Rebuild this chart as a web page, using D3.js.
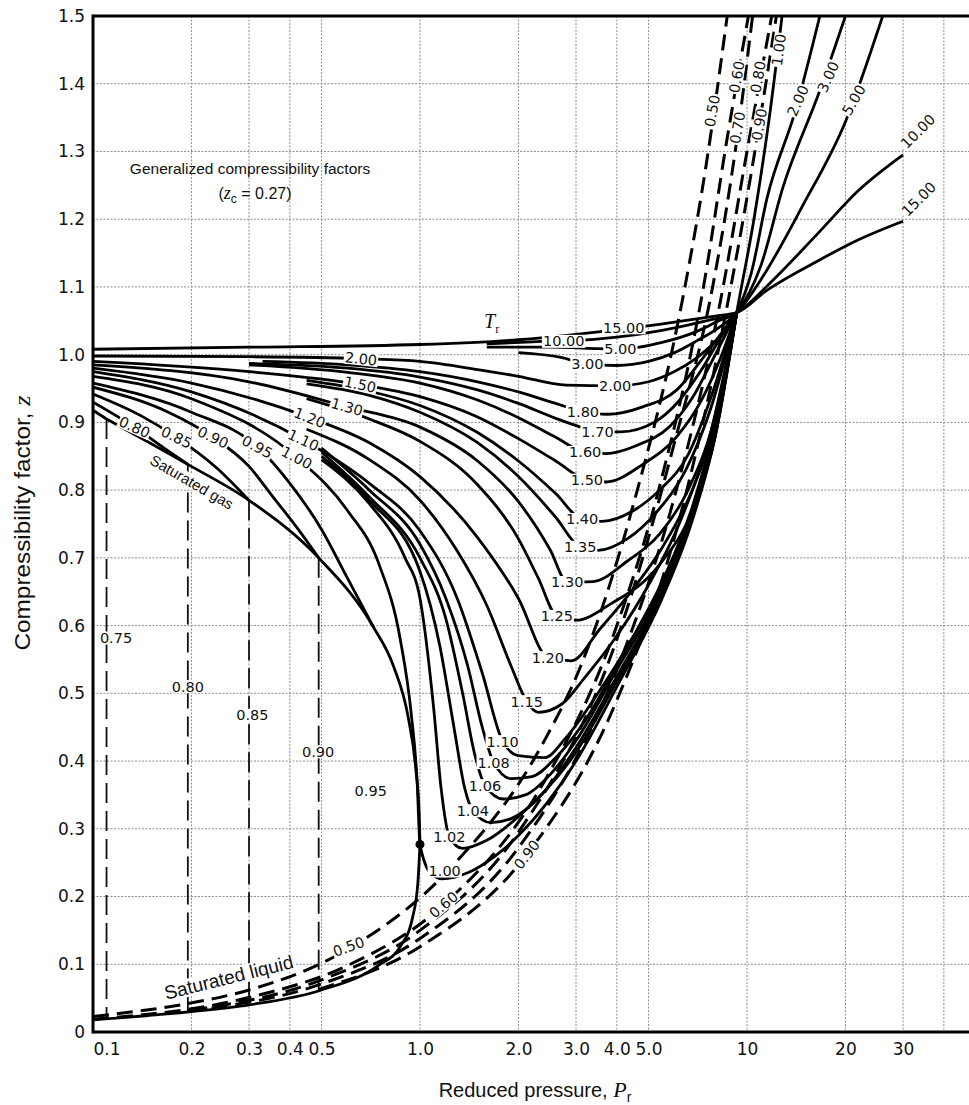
<!DOCTYPE html>
<html><head><meta charset="utf-8">
<script src="https://cdn.jsdelivr.net/npm/d3@7/dist/d3.min.js"></script>
<style>body{margin:0;background:#fff}svg{display:block}</style>
</head><body>
<svg id="chart" width="969" height="1105"></svg>
<script>
// ---------------- DATA ----------------
const xTickValues = [0.1,0.2,0.3,0.4,0.5,1,2,3,4,5,10,20,30];
const xTickLabels = ["0.1","0.2","0.3","0.4","0.5","1.0","2.0","3.0","4.0","5.0","10","20","30"];
const xGridValues = [0.2,0.3,0.4,0.5,1,2,3,4,5,10,20,30,40];
const yTickValues = [0,0.1,0.2,0.3,0.4,0.5,0.6,0.7,0.8,0.9,1.0,1.1,1.2,1.3,1.4,1.5];
const yTickLabels = ["0","0.1","0.2","0.3","0.4","0.5","0.6","0.7","0.8","0.9","1.0","1.1","1.2","1.3","1.4","1.5"];

// isotherms [Pr, z]
const tr1500 = [[0.1,1.008],[0.3,1.011],[1,1.015],[2,1.022],[3,1.03],[4.2,1.038],[6,1.048],[8,1.057],[9.3,1.062],[11.5,1.095],[16.4,1.138],[22,1.17],[30,1.197]];
const tr1000 = [[1.6,1.016],[2.5,1.02],[3,1.021],[4,1.026],[5.5,1.036],[7.5,1.05],[9.3,1.062],[12,1.11],[16.4,1.178],[22,1.243],[30,1.295]];
const tr500  = [[1.6,1.011],[2.5,1.011],[3.5,1.009],[4.1,1.008],[5.5,1.018],[7,1.034],[8.2,1.05],[9.3,1.062],[11,1.11],[14.8,1.22],[20,1.344],[26,1.5]];
const tr300  = [[2.0,1.003],[2.7,0.996],[3.25,0.986],[4.0,0.984],[5,0.99],[6,1.003],[7,1.02],[8.2,1.04],[9.3,1.062],[11,1.13],[12.9,1.248],[16.7,1.39],[20,1.5]];
const tr200  = [[0.1,0.998],[0.3,0.997],[0.66,0.994],[1,0.99],[1.5,0.978],[2,0.968],[2.8,0.955],[3.95,0.954],[5,0.96],[6,0.975],[7,0.995],[8.2,1.025],[9.3,1.062],[10.3,1.12],[11.5,1.23],[14.1,1.362],[16.7,1.5]];
const tr180  = [[0.33,0.99],[0.6,0.985],[1,0.975],[1.5,0.96],[2,0.945],[2.6,0.928],[3.15,0.916],[3.74,0.912],[4.8,0.923],[6.1,0.948],[7.2,0.99],[8.3,1.03],[9.3,1.062]];
const tr170  = [[0.3,0.987],[0.6,0.98],[1,0.967],[1.5,0.948],[2,0.928],[2.6,0.906],[3.1,0.893],[3.49,0.886],[4.1,0.886],[5.2,0.9],[6.2,0.932],[7.2,0.975],[8.3,1.025],[9.3,1.062]];
const tr160  = [[0.3,0.985],[0.6,0.974],[1,0.958],[1.5,0.933],[2,0.907],[2.6,0.878],[3.2,0.856],[3.7,0.854],[4.6,0.866],[5.8,0.894],[6.8,0.936],[7.9,0.995],[9.3,1.062]];
const tr150  = [[0.1,0.99],[0.3,0.975],[0.656,0.956],[1,0.938],[1.5,0.908],[2,0.876],[2.6,0.843],[3.24,0.815],[3.7,0.812],[4.8,0.838],[6.1,0.879],[7.3,0.935],[8.3,0.995],[9.3,1.062]];
const tr140  = [[0.45,0.962],[0.7,0.946],[1,0.925],[1.5,0.885],[2,0.843],[2.6,0.795],[3.13,0.757],[3.6,0.754],[4.5,0.77],[5.4,0.8],[6.6,0.852],[7.8,0.94],[9.3,1.062]];
const tr135  = [[0.45,0.957],[0.7,0.94],[1,0.915],[1.5,0.87],[2,0.82],[2.6,0.76],[3.09,0.716],[3.5,0.711],[4.3,0.728],[5.3,0.768],[6.5,0.83],[7.8,0.925],[9.3,1.062]];
const tr130  = [[0.1,0.985],[0.3,0.96],[0.598,0.923],[1,0.893],[1.5,0.843],[2,0.783],[2.5,0.712],[2.82,0.664],[3.38,0.665],[4.3,0.695],[5.4,0.735],[6.6,0.8],[7.9,0.9],[9.3,1.062]];
const tr125  = [[0.45,0.935],[0.7,0.905],[1,0.872],[1.5,0.808],[2,0.728],[2.3,0.67],[2.62,0.614],[3.0,0.608],[3.83,0.632],[5.4,0.69],[6.8,0.77],[8,0.88],[9.3,1.062]];
const tr120  = [[0.1,0.98],[0.2,0.958],[0.46,0.907],[0.7,0.87],[1,0.82],[1.5,0.73],[2,0.64],[2.46,0.553],[2.9,0.548],[3.55,0.595],[4.5,0.655],[5.5,0.715],[6.8,0.8],[8,0.9],[9.3,1.062]];
const tr115  = [[0.45,0.89],[0.7,0.845],[1,0.785],[1.3,0.71],[1.6,0.63],[1.9,0.54],[2.12,0.488],[2.3,0.472],[2.73,0.485],[3.15,0.52],[4,0.585],[5,0.66],[6.2,0.75],[7.6,0.87],[9.3,1.062]];
const tr110  = [[0.1,0.975],[0.2,0.945],[0.44,0.874],[0.7,0.81],[1,0.74],[1.3,0.64],[1.55,0.53],[1.79,0.429],[2.0,0.408],[2.4,0.405],[2.8,0.435],[3.5,0.5],[4.5,0.585],[5.5,0.665],[6.8,0.775],[8,0.9],[9.3,1.062]];
const tr108  = [[0.5,0.862],[0.7,0.8],[1,0.72],[1.2,0.64],[1.4,0.54],[1.55,0.45],[1.68,0.398],[1.9,0.374],[2.2,0.377],[2.6,0.405],[3.2,0.46],[4.2,0.56],[5.5,0.66],[6.8,0.77],[8,0.895],[9.3,1.062]];
const tr106  = [[0.5,0.856],[0.7,0.79],[1,0.70],[1.2,0.61],[1.35,0.5],[1.47,0.41],[1.58,0.364],[1.8,0.344],[2.1,0.35],[2.5,0.38],[3,0.43],[4,0.535],[5.5,0.655],[6.8,0.77],[8,0.89],[9.3,1.062]];
const tr104  = [[0.5,0.85],[0.7,0.785],[1,0.68],[1.15,0.57],[1.27,0.45],[1.37,0.36],[1.45,0.327],[1.65,0.309],[1.9,0.315],[2.3,0.345],[3,0.42],[4,0.525],[5.5,0.65],[6.8,0.765],[8,0.885],[9.3,1.062]];
const tr102  = [[0.5,0.845],[0.7,0.78],[0.9,0.70],[1.0,0.64],[1.1,0.48],[1.16,0.36],[1.23,0.288],[1.35,0.271],[1.6,0.283],[2,0.318],[3,0.413],[4,0.518],[5.5,0.645],[6.8,0.76],[8,0.882],[9.3,1.062]];
const tr100  = [[0.1,0.968],[0.2,0.935],[0.42,0.848],[0.6,0.77],[0.75,0.69],[0.87,0.58],[0.94,0.47],[0.98,0.37],[1.0,0.277],[1.08,0.234],[1.17,0.226],[1.4,0.235],[1.7,0.26],[2,0.29],[3,0.40],[4,0.51],[5.5,0.64],[6.8,0.755],[8,0.88],[9.3,1.062],[10.5,1.2],[11.7,1.35],[12.8,1.5]];
const tr095  = [[0.1,0.958],[0.2,0.915],[0.318,0.864],[0.4,0.81],[0.5,0.742],[0.6,0.67],[0.72,0.598]];
const tr090  = [[0.1,0.952],[0.17,0.915],[0.233,0.878],[0.3,0.835],[0.355,0.79],[0.42,0.745],[0.49,0.70]];
const tr085  = [[0.1,0.942],[0.14,0.91],[0.18,0.878],[0.24,0.832],[0.3,0.785]];
const tr080  = [[0.1,0.93],[0.134,0.893],[0.165,0.862],[0.195,0.838]];
const tr075  = [[0.1,0.918],[0.11,0.905]];
const satGas = [[0.11,0.905],[0.195,0.838],[0.3,0.785],[0.49,0.70],[0.72,0.598],[0.83,0.54],[0.92,0.465],[0.97,0.39],[0.995,0.32],[1.0,0.277]];
const satLiq = [[0.1,0.018],[0.2,0.03],[0.3,0.04],[0.5,0.062],[0.75,0.099],[0.87,0.126],[0.95,0.17],[0.985,0.22],[1.0,0.277]];
const criticalPoint = [1.0,0.277];
// two-phase (constant Pr) dashed lines
const tp075 = [[0.11,0.905],[0.11,0.02]];
const tp080 = [[0.195,0.838],[0.195,0.03]];
const tp085 = [[0.3,0.785],[0.3,0.04]];
const tp090 = [[0.49,0.70],[0.49,0.062]];
// compressed-liquid dashed isotherms
const liq050 = [[0.1,0.023],[0.2,0.043],[0.3,0.062],[0.6,0.122],[1.2,0.235],[2.4,0.43],[3.1,0.54],[4.5,0.78],[6.4,1.09],[7.5,1.28],[8.7,1.5]];
const liq060 = [[0.1,0.019],[0.3,0.051],[0.6,0.098],[1.18,0.188],[2.4,0.37],[4,0.6],[5.5,0.82],[7.3,1.09],[8.7,1.32],[10.1,1.5]];
const liq070 = [[0.2,0.032],[0.5,0.077],[1,0.15],[2,0.295],[4,0.58],[6,0.87],[7.85,1.1],[9.2,1.3],[10.4,1.5]];
const liq080 = [[0.195,0.031],[0.5,0.071],[1,0.138],[2,0.272],[4,0.535],[6,0.79],[8.3,1.08],[10,1.3],[11.9,1.5]];
const liq090 = [[0.49,0.063],[1,0.126],[2.12,0.262],[4,0.49],[6,0.73],[8.6,1.06],[10.4,1.28],[12.3,1.5]];

// curve labels: [text, Pr, z]
const labelsLeft  = [["2.00",0.66,0.994],["1.50",0.656,0.956],["1.30",0.598,0.923],["1.20",0.46,0.907],["1.10",0.44,0.874],["1.00",0.42,0.848],["0.95",0.318,0.864],["0.90",0.233,0.878],["0.85",0.18,0.878],["0.80",0.134,0.893]];
const labelsRight = [["15.00",4.2,1.04],["10.00",2.75,1.02],["5.00",4.1,1.008],["3.00",3.25,0.986],["2.00",3.95,0.954],["1.80",3.15,0.916],["1.70",3.49,0.886],["1.60",3.2,0.856],["1.50",3.24,0.815],["1.40",3.13,0.757],["1.35",3.09,0.716],["1.30",2.82,0.664],["1.25",2.62,0.614],["1.20",2.46,0.553],["1.15",2.12,0.488],["1.10",1.79,0.429],["1.08",1.68,0.398],["1.06",1.58,0.364],["1.04",1.45,0.327],["1.02",1.23,0.288],["1.00",1.19,0.238]];
const labelsLiquid = [["0.50",0.605,0.126],["0.60",1.18,0.188],["0.90",2.12,0.262]];
const labelsTop = [["0.50",7.82,1.36],["0.60",9.3,1.41],["0.70",9.35,1.335],["0.80",10.8,1.41],["0.90",10.9,1.34],["1.00",12.5,1.45],["2.00",14.3,1.375],["3.00",17.7,1.41],["5.00",21.2,1.376],["10.00",33.3,1.33],["15.00",33.5,1.23]];
const labelsTwoPhase = [["0.75",0.1176,0.582],["0.80",0.195,0.51],["0.85",0.307,0.468],["0.90",0.488,0.414],["0.95",0.707,0.356]];

// ---------------- LAYOUT ----------------
const W = 969, H = 1105;
const plotLeft = 93, plotTop = 16, plotBottom = 1032;
const angLeft = [6,12,16,22,25,28,28,26,26,24];
const angLiquid = [-20,-40,-52];
const angTop = [-80,-80,-80,-80,-80,-82,-66,-66,-60,-45,-45];
const labelFont = "'DejaVu Sans', Verdana, sans-serif";
const titleFont = "'Liberation Sans', Arial, Helvetica, sans-serif";
const labelSize = 14.5;

const svg = d3.select("#chart");
const x = d3.scaleLog().domain([0.1,10]).range([plotLeft,747]);
const y = d3.scaleLinear().domain([0,1.5]).range([plotBottom,plotTop]);

svg.append("rect").attr("width",W).attr("height",H).attr("fill","#fff");
svg.append("defs").append("clipPath").attr("id","plot")
  .append("rect").attr("x",plotLeft).attr("y",plotTop).attr("width",W-plotLeft).attr("height",plotBottom-plotTop);

// grid
const grid = svg.append("g").attr("stroke","#8c8c8c").attr("stroke-width",1).attr("stroke-dasharray","2,1.5");
grid.selectAll("line.v").data(xGridValues).join("line").attr("class","v")
  .attr("x1",d=>x(d)).attr("x2",d=>x(d)).attr("y1",plotTop).attr("y2",plotBottom);
grid.selectAll("line.h").data(yTickValues.filter(v=>v>0&&v<1.5)).join("line").attr("class","h")
  .attr("x1",plotLeft).attr("x2",W).attr("y1",d=>y(d)).attr("y2",d=>y(d));

const plot = svg.append("g").attr("clip-path","url(#plot)");
const lineSmooth = d3.line().x(d=>x(d[0])).y(d=>y(d[1])).curve(d3.curveMonotoneX);
const lineStraight = d3.line().x(d=>x(d[0])).y(d=>y(d[1]));

const solidCurves = [tr1500,tr1000,tr500,tr300,tr200,tr180,tr170,tr160,tr150,tr140,tr135,tr130,tr125,tr120,tr115,tr110,tr108,tr106,tr104,tr102,tr100,tr095,tr090,tr085,tr080,tr075,satGas,satLiq];
const liquidCurves = [liq050,liq060,liq070,liq080,liq090];
const twoPhase = [tp075,tp080,tp085,tp090];

plot.selectAll("path.tp").data(twoPhase).join("path").attr("class","tp")
  .attr("d",lineStraight).attr("fill","none").attr("stroke","#111").attr("stroke-width",1.8).attr("stroke-dasharray","20,8");
plot.selectAll("path.liq").data(liquidCurves).join("path").attr("class","liq")
  .attr("d",lineSmooth).attr("fill","none").attr("stroke","#000").attr("stroke-width",3).attr("stroke-dasharray","16,8");
plot.selectAll("path.iso").data(solidCurves).join("path").attr("class","iso")
  .attr("d",lineSmooth).attr("fill","none").attr("stroke","#000").attr("stroke-width",2.8).attr("stroke-linejoin","round");
plot.append("circle").attr("cx",x(criticalPoint[0])).attr("cy",y(criticalPoint[1])).attr("r",4.5).attr("fill","#000");

// labels
const lab = svg.append("g");
function addLabel(text, px, py, angle, size, family) {
  const g = lab.append("g").attr("transform",`translate(${px},${py}) rotate(${angle})`);
  const r = g.append("rect").attr("fill","#fff");
  const t = g.append("text").attr("text-anchor","middle").attr("dy","0.36em")
    .attr("font-size",size).attr("font-family",family||labelFont).attr("fill","#111").text(text);
  const bb = t.node().getBBox();
  r.attr("x",bb.x-1).attr("y",bb.y+1.5).attr("width",bb.width+2).attr("height",bb.height-3);
  return t;
}
labelsLeft.forEach((d,i)=>addLabel(d[0],x(d[1]),y(d[2]),angLeft[i],labelSize));
labelsRight.forEach(d=>addLabel(d[0],x(d[1]),y(d[2]),0,labelSize));
labelsLiquid.forEach((d,i)=>addLabel(d[0],x(d[1]),y(d[2]),angLiquid[i],labelSize));
labelsTop.forEach((d,i)=>addLabel(d[0],x(d[1]),y(d[2]),angTop[i],labelSize));
labelsTwoPhase.forEach(d=>addLabel(d[0],x(d[1]),y(d[2]),0,labelSize));
addLabel("Saturated gas",x(0.2006),y(0.812),30,15,titleFont);
addLabel("Saturated liquid",x(0.26),y(0.081),-14,19,titleFont);

// annotations
svg.append("text").attr("x",250).attr("y",174).attr("text-anchor","middle")
  .attr("font-family",titleFont).attr("font-size",15.5).attr("fill","#111").text("Generalized compressibility factors");
const zc = svg.append("text").attr("x",255).attr("y",199).attr("text-anchor","middle")
  .attr("font-family",titleFont).attr("font-size",16).attr("fill","#111");
zc.append("tspan").text("(");
zc.append("tspan").attr("font-style","italic").attr("font-family","'Liberation Serif', serif").attr("font-size",18).text("z");
zc.append("tspan").attr("font-size",12).attr("dy",4).text("c");
zc.append("tspan").attr("dy",-4).text(" = 0.27)");
const trText = svg.append("text").attr("x",484).attr("y",328).attr("font-family","'Liberation Serif', 'DejaVu Serif', serif").attr("font-size",20).attr("font-style","italic").attr("fill","#111");
trText.append("tspan").text("T");
trText.append("tspan").attr("font-size",12).attr("dy",5).attr("font-style","normal").text("r");

// axes
const xAxis = d3.axisBottom(x).tickValues(xTickValues).tickFormat((d,i)=>xTickLabels[i]).tickSize(0).tickPadding(11);
const gx = svg.append("g").attr("transform",`translate(0,${plotBottom})`).call(xAxis);
gx.select(".domain").remove();
gx.selectAll("text").attr("font-size",17).attr("font-family",labelFont).attr("fill","#111");
gx.selectAll(".tick").filter(d=>d===0.1).select("text").attr("text-anchor","start").attr("x",0);
const yAxis = d3.axisLeft(y).tickValues(yTickValues).tickFormat((d,i)=>yTickLabels[i]).tickSize(0).tickPadding(8);
const gy = svg.append("g").attr("transform",`translate(${plotLeft},0)`).call(yAxis);
gy.select(".domain").remove();
gy.selectAll("text").attr("font-size",17).attr("font-family",labelFont).attr("fill","#111");

const frame = svg.append("g").attr("stroke","#000").attr("stroke-width",3);
frame.append("line").attr("x1",plotLeft).attr("x2",plotLeft).attr("y1",plotTop-1.5).attr("y2",plotBottom+1.5);
frame.append("line").attr("x1",plotLeft).attr("x2",W).attr("y1",plotBottom).attr("y2",plotBottom);
frame.append("line").attr("x1",plotLeft).attr("x2",W).attr("y1",plotTop).attr("y2",plotTop);

// axis titles
const xt = svg.append("text").attr("x",535).attr("y",1097).attr("text-anchor","middle")
  .attr("font-family",titleFont).attr("font-size",20).attr("fill","#111");
xt.append("tspan").text("Reduced pressure, ");
xt.append("tspan").attr("font-style","italic").attr("font-family","'Liberation Serif', serif").attr("font-size",22).text("P");
xt.append("tspan").attr("font-size",14).attr("dy",5).text("r");
const yt = svg.append("text").attr("transform","translate(30,523) rotate(-90)").attr("text-anchor","middle")
  .attr("font-family",titleFont).attr("font-size",22).attr("fill","#111")
  .attr("textLength",255).attr("lengthAdjust","spacingAndGlyphs");
yt.append("tspan").text("Compressibility factor, ");
yt.append("tspan").attr("font-style","italic").attr("font-family","'Liberation Serif', serif").attr("font-size",24).text("z");
</script>
</body></html>
